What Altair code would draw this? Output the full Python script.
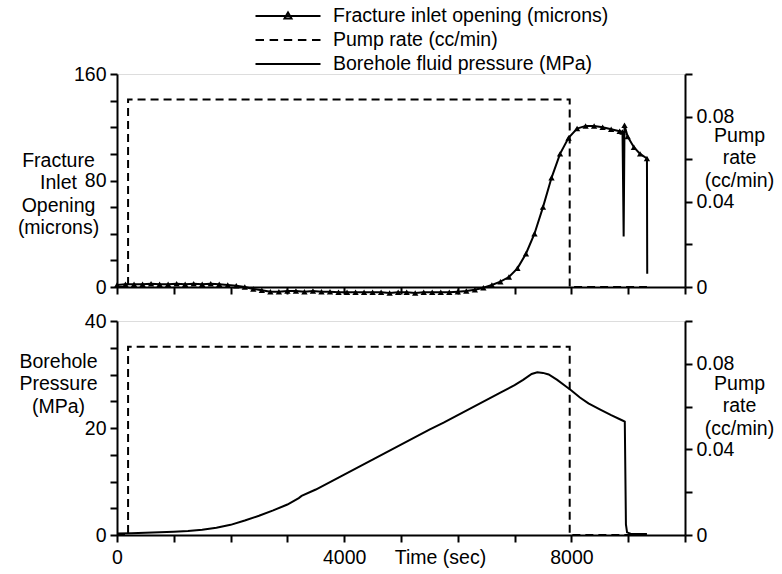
import altair as alt
import pandas as pd

FONT = "Liberation Sans"
FS = 19.5

# ---------------- data ----------------
frac_t = [0, 150, 300, 450, 600, 750, 900, 1050, 1200, 1350,
          1500, 1650, 1800, 1950, 2100, 2250, 2400, 2550, 2700, 2850,
          3000, 3150, 3300, 3450, 3600, 3750, 3900, 4050, 4200, 4350,
          4500, 4650, 4800, 4950, 5100, 5250, 5400, 5550, 5700, 5850,
          6000, 6150, 6300, 6450, 6600, 6750, 6900, 7050, 7200, 7350,
          7500, 7650, 7800, 7950, 8100, 8250, 8400, 8550, 8700, 8850,
          8900, 8920, 8935, 8990, 9100, 9210, 9330, 9335]
frac_v = [1.5, 2, 2, 2, 2.5, 2, 2, 2.5, 2, 2.5,
          2, 2.5, 2, 1.5, 1, 0, -1.5, -2.5, -3.5, -3.5,
          -3, -3, -3.5, -3, -3.5, -3.5, -4, -4, -4, -4,
          -4, -4, -4.5, -4, -4, -4.5, -4, -4, -4, -4,
          -3.5, -3, -2, -0.5, 1.5, 4, 7.5, 14, 25, 40,
          60, 82, 100, 112, 119, 121, 121, 120, 118.5, 117,
          116.5, 38, 121.5, 113, 105, 100, 96.5, 10]
frac_mark = [1] * 61 + [0, 1, 1, 1, 1, 1, 0]

pump_t = [0, 195, 195, 7970, 7970, 9330]
pump_v = [0, 0, 0.088, 0.088, 0, 0]

pres_t = [0, 250, 500, 750, 1000, 1250, 1500, 1750, 2000, 2250,
          2500, 2750, 3000, 3200, 3250, 3500, 3750, 4000, 4250, 4500,
          4750, 5000, 5250, 5500, 5750, 6000, 6250, 6500, 6750, 7000,
          7150, 7300, 7400, 7500, 7600, 7750, 7900, 8000, 8150, 8300,
          8500, 8700, 8900, 8940, 8960, 8980, 9050, 9330]
pres_v = [0.3, 0.35, 0.4, 0.5, 0.6, 0.75, 1.0, 1.35, 1.9, 2.7,
          3.6, 4.6, 5.7, 6.9, 7.3, 8.5, 9.9, 11.3, 12.7, 14.1,
          15.5, 16.9, 18.3, 19.7, 21.0, 22.4, 23.8, 25.2, 26.6, 28.0,
          29.0, 30.1, 30.4, 30.3, 30.0, 29.0, 27.8, 27.0, 25.7, 24.6,
          23.5, 22.4, 21.4, 21.2, 2.0, 0.5, 0.2, 0.2]

x_ticks = [0, 1000, 2000, 3000, 4000, 5000, 6000, 7000, 8000, 9000, 10000]
x_labels = ["0", "4000", "8000"]
frac_ticks = [0, 20, 40, 60, 80, 100, 120, 140, 160]
frac_labels = ["0", "80", "160"]
pres_ticks = [0, 5, 10, 15, 20, 25, 30, 35, 40]
pres_labels = ["0", "20", "40"]
pump_ticks = [0, 0.02, 0.04, 0.06, 0.08, 0.1]
pump_labels = ["0", "0.04", "0.08"]

legend_labels = ["Fracture inlet opening (microns)", "Pump rate (cc/min)",
                 "Borehole fluid pressure (MPa)"]

frac_df = pd.DataFrame({"t": frac_t, "v": frac_v, "m": frac_mark})
pump_df = pd.DataFrame({"t": pump_t, "v": pump_v})
pres_df = pd.DataFrame({"t": pres_t, "v": pres_v})
leg_df = pd.DataFrame({"label": legend_labels})

# ---------------- helpers ----------------
def keep_expr(labels):
    cond = " || ".join([f"datum.label == '{l}'" for l in labels])
    return f"({cond}) ? datum.label : ''"

common_axis = dict(
    labelFont=FONT, labelFontSize=FS, labelColor="black", labelFlush=False,
    labelOverlap=False, tickSize=7, tickWidth=2, tickColor="black",
    domainColor="black", domainWidth=2, grid=False,
    titleFont=FONT, titleFontSize=FS, titleFontWeight="normal", titleColor="black",
)

def y_axis(orient, values, labels, fmt, title, tx, ty):
    return alt.Axis(orient=orient, values=values, format=fmt,
                    labelExpr=keep_expr(labels), labelPadding=4,
                    title=title, titleAngle=0, titleAlign="center",
                    titleBaseline="middle", titleX=tx, titleY=ty,
                    titleLineHeight=22.5, **common_axis)

xscale = alt.Scale(domain=[0, 10000], nice=False, zero=False)
x_top = alt.X("t:Q", scale=xscale,
              axis=alt.Axis(values=x_ticks, labels=False, title=None, **common_axis))
x_bot = alt.X("t:Q", scale=xscale,
              axis=alt.Axis(values=x_ticks, format="d", labelExpr=keep_expr(x_labels),
                            labelPadding=6, title="Time (sec)", titleX=323,
                            titleY=13, titleAlign="center", titleBaseline="top",
                            **common_axis))

pump_title = ["Pump", "rate", "(cc/min)"]
pump_axis_top = y_axis("right", pump_ticks, pump_labels, "~g", pump_title, 54, 61)
pump_axis_bot = y_axis("right", pump_ticks, pump_labels, "~g", pump_title, 54, 62)

W, H1, H2 = 568, 213, 214

# ---------------- top panel ----------------
frac_y = alt.Y("v:Q", scale=alt.Scale(domain=[0, 160], nice=False, zero=False),
               axis=y_axis("left", frac_ticks, frac_labels, "d",
                           ["Fracture", "Inlet", "Opening", "(microns)"], -59, 86))
frac_line = alt.Chart(frac_df).mark_line(color="black", strokeWidth=2).encode(
    x=x_top, y=frac_y)
frac_pts = alt.Chart(frac_df).transform_filter("datum.m == 1").mark_point(
    shape="triangle-up", filled=True, color="black", size=40, opacity=1).encode(
    x=x_top, y=frac_y)
frac_layer = alt.layer(frac_line, frac_pts)

pump_top = alt.Chart(pump_df).mark_line(color="black", strokeWidth=2,
                                        strokeDash=[8, 5]).encode(
    x=x_top,
    y=alt.Y("v:Q", scale=alt.Scale(domain=[0, 0.1], nice=False, zero=False),
            axis=pump_axis_top))

paths = [
    "M-3.25,0H3.25M-0.35,0.25L0,-0.35L0.35,0.25Z",
    "M-3.25,0H-2.4M-1.84,0H-0.99M-0.42,0H0.42M0.99,0H1.84M2.4,0H3.25",
    "M-3.25,0H3.25",
]
legend_layer = alt.Chart(leg_df).mark_point(opacity=0, filled=False, size=400,
                                            color="black").encode(
    shape=alt.Shape("label:N",
                    scale=alt.Scale(domain=legend_labels, range=paths),
                    legend=alt.Legend(title=None, orient="none", legendX=160,
                                      legendY=-69, symbolSize=400,
                                      symbolStrokeWidth=2, symbolStrokeColor="black",
                                      symbolFillColor="black", symbolOpacity=1,
                                      labelFont=FONT, labelFontSize=FS,
                                      labelColor="black", labelOffset=34,
                                      rowPadding=3, padding=0, labelLimit=0)))

top = alt.layer(frac_layer, pump_top, legend_layer).resolve_scale(
    y="independent").properties(width=W, height=H1)

# ---------------- bottom panel ----------------
pres_line = alt.Chart(pres_df).mark_line(color="black", strokeWidth=2).encode(
    x=x_bot,
    y=alt.Y("v:Q", scale=alt.Scale(domain=[0, 40], nice=False, zero=False),
            axis=y_axis("left", pres_ticks, pres_labels, "d",
                        ["Borehole", "Pressure", "(MPa)"], -59, 40)))
pump_bot = alt.Chart(pump_df).mark_line(color="black", strokeWidth=2,
                                        strokeDash=[8, 5]).encode(
    x=x_bot,
    y=alt.Y("v:Q", scale=alt.Scale(domain=[0, 0.1], nice=False, zero=False),
            axis=pump_axis_bot))
bottom = alt.layer(pres_line, pump_bot).resolve_scale(y="independent").properties(
    width=W, height=H2)

chart = alt.vconcat(top, bottom, spacing=34, bounds="flush").properties(
    padding={"left": 16, "top": 5, "right": 5, "bottom": 5},
    background="white",
).configure_view(stroke=None).configure(font=FONT)

chart.save("out.html", embed_options={"renderer": "svg", "actions": False})
